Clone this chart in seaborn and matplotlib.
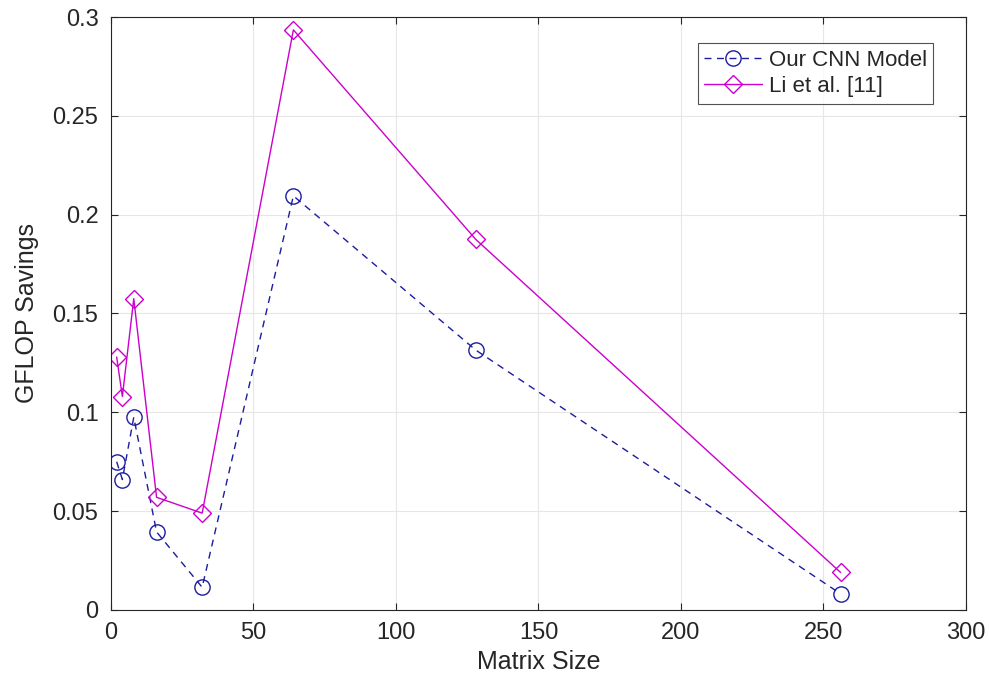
import numpy as np
import pandas as pd
import matplotlib
matplotlib.use("Agg")
import matplotlib.pyplot as plt
import seaborn as sns

matrix_size = [2, 4, 8, 16, 32, 64, 128, 256]
cnn_savings = [0.075, 0.066, 0.0975, 0.0395, 0.0115, 0.2095, 0.1315, 0.0082]
li_savings = [0.128, 0.108, 0.1575, 0.057, 0.049, 0.2935, 0.1875, 0.019]
series_names = ["Our CNN Model", "Li et al. [11]"]
x_ticks = [0, 50, 100, 150, 200, 250, 300]
y_ticks = [0, 0.05, 0.1, 0.15, 0.2, 0.25, 0.3]
y_tick_labels = ["0", "0.05", "0.1", "0.15", "0.2", "0.25", "0.3"]

df = pd.DataFrame({
    "Matrix Size": matrix_size * 2,
    "GFLOP Savings": cnn_savings + li_savings,
    "Series": [series_names[0]] * len(matrix_size) + [series_names[1]] * len(matrix_size),
})

sns.set_theme(style="white")
plt.rcParams['font.family'] = ['Liberation Sans', 'DejaVu Sans']

fig = plt.figure(figsize=(9.89, 6.83), dpi=100)
ax = fig.add_axes([0.1122, 0.1069, 0.8645, 0.8682])

palette = {series_names[0]: "#1c1c9e", series_names[1]: "#cc00cc"}
markers = {series_names[0]: "o", series_names[1]: "D"}
dashes = {series_names[0]: (5, 4), series_names[1]: ""}

sns.lineplot(data=df, x="Matrix Size", y="GFLOP Savings", hue="Series", style="Series",
             palette=palette, markers=markers, dashes=dashes, linewidth=1.0,
             markersize=11, markerfacecolor="none", markeredgewidth=1.0,
             ax=ax, sort=False)
for line in ax.lines:
    line.set_markerfacecolor("none")
    line.set_markeredgecolor(line.get_color())
    if line.get_marker() == "D":
        line.set_markersize(9.5)

ax.set_xlim(0, 300)
ax.set_ylim(0, 0.3)
ax.set_xticks(x_ticks)
ax.set_yticks(y_ticks)
ax.set_yticklabels(y_tick_labels)
ax.grid(True, color="#e6e6e6", linewidth=0.8)
ax.set_axisbelow(True)
for s in ax.spines.values():
    s.set_visible(True)
    s.set_color("#262626")
    s.set_linewidth(0.8)
ax.tick_params(direction="in", length=5, width=0.8, colors="#262626",
               labelsize=17, top=True, right=True, bottom=True, left=True,
               labeltop=False, labelright=False, pad=9)
ax.set_xlabel("Matrix Size", fontsize=18, color="#262626")
ax.set_ylabel("GFLOP Savings", fontsize=18, color="#262626", labelpad=10)

leg = ax.legend(loc="upper right", bbox_to_anchor=(0.975, 0.975), fontsize=16,
                frameon=True, fancybox=False, edgecolor="#262626",
                handlelength=2.6, borderpad=0.3, labelspacing=0.25, handletextpad=0.3)
leg.get_frame().set_linewidth(0.8)
for h in leg.legend_handles:
    h.set_markerfacecolor("none")
    if h.get_marker() == "D":
        h.set_markersize(9.5)

fig.savefig("out.png", dpi=100)
